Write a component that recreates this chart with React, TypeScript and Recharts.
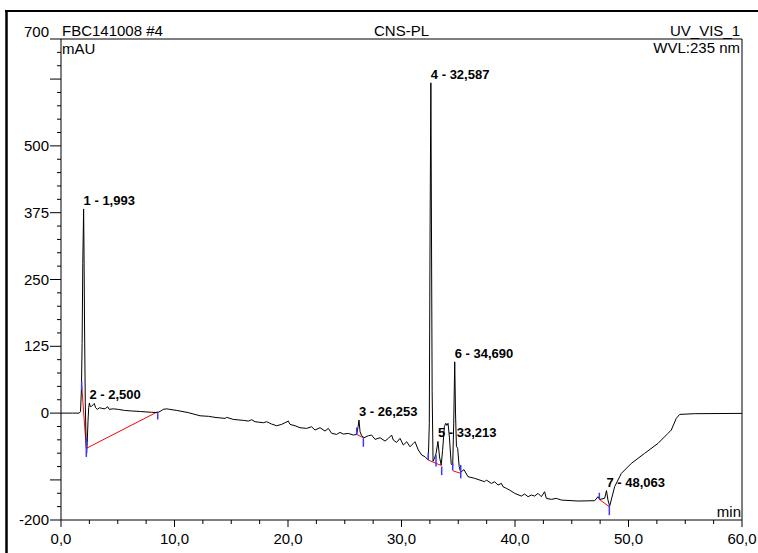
import React from 'react';
import { ComposedChart, Line, XAxis, YAxis, Scatter, ReferenceLine, Customized } from 'recharts';

// ---- trace (retention time in min, signal in mAU) ----
const traceTime = [
  0, 1.0, 1.6, 1.72, 1.8, 1.86, 1.92, 1.993, 2.03, 2.08, 2.14, 2.2, 2.26, 2.31, 2.38, 2.44, 2.5, 2.58, 2.7, 2.85,
  2.93, 3.05, 3.2, 3.4, 3.59, 3.8, 3.94, 4.11, 4.25, 4.6, 5.05, 5.6, 6.23, 7.0, 7.99, 8.52, 8.8, 9.01, 9.3, 9.45,
  10.2, 11.2, 12.25, 13.0, 13.57, 14.45, 14.6, 15.18, 16.07, 16.51, 16.8, 17.09, 17.83, 18.12, 18.56, 19.0, 19.44, 20.03, 20.18, 20.62,
  21.06, 21.64, 22.08, 22.38, 22.82, 23.26, 23.55, 23.85, 24.29, 24.58, 24.88, 25.32, 25.76, 26.05, 26.18, 26.253, 26.35, 26.49, 26.7, 27.08,
  27.37, 27.67, 28.11, 28.55, 28.84, 29.13, 29.28, 29.57, 29.87, 30.16, 30.46, 30.75, 31.04, 31.19, 31.48, 31.78, 32.07, 32.36, 32.45, 32.52,
  32.587, 32.64, 32.7, 32.78, 32.9, 33.05, 33.213, 33.35, 33.5, 33.62, 33.78, 33.9, 34.0, 34.1, 34.22, 34.38, 34.51, 34.6, 34.69, 34.76,
  34.84, 34.95, 35.08, 35.22, 35.35, 35.51, 35.86, 36.45, 37.33, 37.48, 37.92, 38.21, 38.5, 38.8, 38.94, 39.24, 39.53, 39.97, 40.56, 40.85,
  41.15, 41.44, 41.73, 42.03, 42.32, 42.61, 42.76, 43.2, 43.64, 44.08, 45.55, 47.02, 47.31, 47.46, 47.9, 48.063, 48.19, 48.34, 48.78, 49.37,
  50.25, 51.42, 52.6, 53.48, 53.77, 54.21, 54.51, 55.83, 60.0,
];
const traceMAU = [
  0, 0, 0, 3, 45, 130, 280, 382, 300, 150, 20, -45, -75, -55, -15, 10, 19, 12, 13, 16,
  18, 10, 7, 10, 9, 8, 9, 12, 7, 8, 7, 5, 4, 3, 1.5, 1, 4, 7, 8, 7.5,
  5, 1, -5, -6, -8, -9.9, -8, -11.8, -13.6, -14.9, -12.4, -16.1, -18, -16.1, -20.5, -23.6, -21.1, -14.9, -21.1, -23.6,
  -27.3, -28.6, -25.5, -31.7, -27.3, -33.6, -28.6, -38, -39.8, -36.1, -39.2, -38, -41.1, -39.8, -25, -13, -35, -42.3, -46.1, -42.3,
  -41.1, -49.2, -46.1, -52.3, -47.3, -41.1, -50.4, -54.8, -47.3, -59.8, -53.6, -62.9, -56.7, -53.5, -69, -78.4, -81.6, -87.8, -20, 350,
  618, 350, 40, -90, -85, -75, -53, -82, -97, -70, -25, -19, -23, -19, -45, -95, -98, -20, 96, 0,
  -62, -66, -100, -111, -108, -106, -119, -122.1, -128.4, -125.2, -131.5, -128.4, -134.6, -131.5, -137.7, -140.8, -144, -150.2, -155.2, -151.4,
  -156.4, -153.3, -155.2, -150.2, -156.4, -147.1, -159.5, -161.4, -159.5, -162.7, -164.5, -163.9, -156.4, -161.4, -159.5, -145, -162.7, -174, -137.7, -112.8,
  -94.1, -75.3, -56.6, -37.9, -31.7, -9.8, -2.4, -1.1, -0.5,
];

// ---- peak annotations ----
const peakTime = [1.993, 2.5, 26.253, 32.587, 33.213, 34.69, 48.063];
const peakMAU = [382, 19, -13, 618, -53, 96, -145];
const peakNames = ['1 - 1,993', '2 - 2,500', '3 - 26,253', '4 - 32,587', '5 - 33,213', '6 - 34,690', '7 - 48,063'];

// ---- integration baselines (red): [t1, v1, t2, v2] ----
const baselineStartT = [1.82, 2.23, 26.05, 32.36, 34.51, 47.43];
const baselineStartV = [52.5, -66, -39.8, -87.8, -107.8, -161.4];
const baselineEndT = [2.23, 8.52, 26.64, 33.54, 35.22, 48.31];
const baselineEndV = [-66, 2.6, -46.1, -98.5, -112.7, -175.2];

// ---- peak delimiters (blue) ----
const markerTime = [1.82, 2.23, 8.52, 26.05, 26.64, 32.36, 33.04, 33.54, 34.51, 35.22, 47.43, 48.31];
const markerTop = [59, -47, 0, -27, -47, -74, -78, -100, -94, -97, -149, -172];
const markerBottom = [43, -82, -12, -41, -63, -88, -100, -116, -107, -122, -161, -191];

// ---- axes ----
const xTicks = [0, 2.5, 5, 7.5, 10, 12.5, 15, 17.5, 20, 22.5, 25, 27.5, 30, 32.5, 35, 37.5, 40, 42.5, 45, 47.5, 50, 52.5, 55, 57.5, 60];
const xLabelTicks = [0, 10, 20, 30, 40, 50, 60];
const yTicks = [
  -200, -175, -150, -125, -100, -75, -50, -25, 0, 25, 50, 75, 100, 125, 150, 175, 200, 225, 250, 275,
  300, 325, 350, 375, 400, 425, 450, 475, 500, 525, 550, 575, 600, 625, 650, 675, 700,
];
const yMajorTicks = [-200, -125, 0, 125, 250, 375, 500, 625, 700];
const yLabelTicks = [-200, 0, 125, 250, 375, 500, 700];

const trace = traceTime.map((t, i) => ({ t, v: traceMAU[i] }));
const peaks = peakTime.map((t, i) => ({ t, v: peakMAU[i], name: peakNames[i] }));

const W = 758;
const H = 553;
const M = { top: 39, right: 16, bottom: 0, left: 0 };
const Y_AXIS_W = 61;
const X_AXIS_H = 33;
const PL = M.left + Y_AXIS_W;
const PR = W - M.right;
const PT = M.top;
const PB = H - M.bottom - X_AXIS_H;

const FONT = '"Liberation Sans", Arial, Helvetica, sans-serif';

const YTick = (props: any) => {
  const { x, y, payload } = props;
  const v = payload.value;
  const major = yMajorTicks.includes(v);
  const len = major ? 11 : 4;
  const labeled = yLabelTicks.includes(v);
  const ty = v === 700 ? y - 2 : y + 5;
  return (
    <g>
      <line x1={x - len} x2={x} y1={y} y2={y} stroke="#000" strokeWidth={1} />
      {labeled && (
        <text x={x - 12} y={ty} textAnchor="end" fontFamily={FONT} fontSize={15} fill="#000">
          {String(v)}
        </text>
      )}
    </g>
  );
};

const XTick = (props: any) => {
  const { x, y, payload } = props;
  const v = payload.value;
  const major = xLabelTicks.includes(v);
  const len = major ? 7 : 4;
  return (
    <g>
      <line x1={x} x2={x} y1={y} y2={y + len} stroke="#000" strokeWidth={1} />
      {major && (
        <text x={x} y={y + 24} textAnchor="middle" fontFamily={FONT} fontSize={15} fill="#000">
          {v.toFixed(1).replace('.', ',')}
        </text>
      )}
    </g>
  );
};

const PeakLabel = (props: any) => {
  const { cx, cy, payload } = props;
  return (
    <text x={cx} y={cy - 4} fontFamily={FONT} fontSize={13} fontWeight="bold" fill="#000">
      {payload.name}
    </text>
  );
};

const Decor = () => (
  <g>
    <line x1={6.5} x2={6.5} y1={10} y2={H} stroke="#000" strokeWidth={2.5} />
    <line x1={5} x2={W} y1={11} y2={11} stroke="#000" strokeWidth={2} />
    <text x={PL + 1} y={PT - 3} fontFamily={FONT} fontSize={15} fill="#000">FBC141008 #4</text>
    <text x={(PL + PR) / 2} y={PT - 3} textAnchor="middle" fontFamily={FONT} fontSize={15} fill="#000">CNS-PL</text>
    <text x={PR - 2} y={PT - 3} textAnchor="end" fontFamily={FONT} fontSize={15} fill="#000">UV_VIS_1</text>
    <text x={PL + 1} y={PT + 15} fontFamily={FONT} fontSize={15} fill="#000">mAU</text>
    <text x={PR - 2} y={PT + 14} textAnchor="end" fontFamily={FONT} fontSize={15} fill="#000">WVL:235 nm</text>
    <text x={PR - 1} y={PB - 3} textAnchor="end" fontFamily={FONT} fontSize={15} fill="#000">min</text>
  </g>
);

export default function App() {
  return (
    <div style={{ position: 'absolute', left: 0, top: 0, width: W, height: H, background: '#fff' }}>
      <ComposedChart width={W} height={H} margin={M}>
        <XAxis
          type="number"
          dataKey="t"
          domain={[0, 60]}
          ticks={xTicks}
          interval={0}
          tickSize={0}
          tickMargin={0}
          tickLine={false}
          axisLine={{ stroke: '#000' }}
          height={X_AXIS_H}
          tick={<XTick />}
          allowDataOverflow
        />
        <YAxis
          type="number"
          dataKey="v"
          domain={[-200, 700]}
          ticks={yTicks}
          interval={0}
          tickSize={0}
          tickMargin={0}
          tickLine={false}
          axisLine={{ stroke: '#000' }}
          width={Y_AXIS_W}
          tick={<YTick />}
          allowDataOverflow
        />
        <ReferenceLine y={700} stroke="#000" strokeWidth={1} />
        <ReferenceLine x={60} stroke="#000" strokeWidth={1} />
        {baselineStartT.map((t, i) => (
          <ReferenceLine
            key={'b' + i}
            segment={[{ x: t, y: baselineStartV[i] }, { x: baselineEndT[i], y: baselineEndV[i] }]}
            stroke="#ff0000"
            strokeWidth={1}
            ifOverflow="visible"
          />
        ))}
        <Line
          data={trace}
          dataKey="v"
          type="linear"
          stroke="#000"
          strokeWidth={1}
          dot={false}
          isAnimationActive={false}
        />
        {markerTime.map((t, i) => (
          <ReferenceLine
            key={'m' + i}
            segment={[{ x: t, y: markerTop[i] }, { x: t, y: markerBottom[i] }]}
            stroke="#3a3aff"
            strokeWidth={1.5}
            ifOverflow="visible"
          />
        ))}
        <Scatter data={peaks} dataKey="v" shape={<PeakLabel />} isAnimationActive={false} />
        <Customized component={Decor} />
      </ComposedChart>
    </div>
  );
}
